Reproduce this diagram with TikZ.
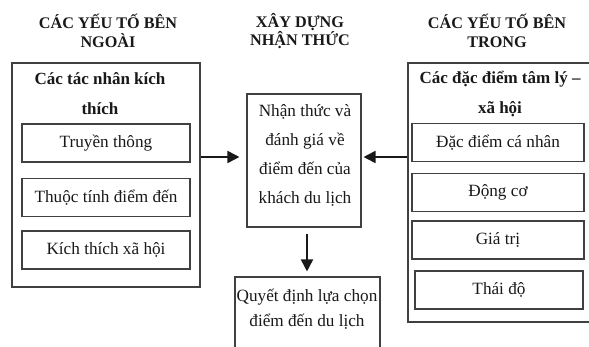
\documentclass[tikz,border=0pt]{standalone}
\usepackage{fontspec}
\setmainfont{Liberation Serif}
\usetikzlibrary{arrows.meta}

\tikzset{
  frame/.style={draw=black!75, line width=1.1pt, inner sep=0pt},
  itembox/.style={draw=black!75, line width=1.1pt, inner sep=0pt, minimum height=38pt,
    font=\fontsize{17.2}{20}\selectfont, text=black!90},
  header/.style={align=center, font=\bfseries\fontsize{16.2}{18.5}\selectfont, text=black!90},
  grouptitle/.style={align=center, font=\bfseries\fontsize{17}{30}\selectfont, text=black!90},
  bodytext/.style={align=center, font=\fontsize{17.2}{29}\selectfont, text=black!90},
  arr/.style={line width=1.8pt, black!90, -{Triangle[length=12pt,width=12pt]}}
}

\begin{document}
\begin{tikzpicture}[x=1pt, y=-1pt]
\clip (0,0) rectangle (589,347);
\fill[white] (0,0) rectangle (589,347);

% column headers
\node[header] (hleft)  at (108,31) {CÁC YẾU TỐ BÊN\\NGOÀI};
\node[header] (hmid)   at (300,31) {XÂY DỰNG\\NHẬN THỨC};
\node[header] (hright) at (497,31) {CÁC YẾU TỐ BÊN\\TRONG};

% external factors
\node[frame, minimum width=188pt, minimum height=224pt] (lbox) at (106,175) {};
\node[grouptitle] (ltitle) at (100,94) {Các tác nhân kích\\thích};
\node[itembox, minimum width=168pt] (l1) at (106,143) {Truyền thông};
\node[itembox, minimum width=168pt] (l2) at (106,197.5) {Thuộc tính điểm đến};
\node[itembox, minimum width=168pt] (l3) at (106,250) {Kích thích xã hội};

% perception
\node[frame, minimum width=114pt, minimum height=133pt] (cbox) at (304,160.5) {};
\node[bodytext] (ctext) at (305,155) {Nhận thức và\\đánh giá về\\điểm đến của\\khách du lịch};

% decision (runs past the lower edge)
\node[frame, minimum width=145pt, minimum height=90pt] (qbox) at (307.5,322) {};
\node[bodytext, font=\fontsize{17.2}{25}\selectfont] (qtext) at (307,309) {Quyết định lựa chọn\\điểm đến du lịch};

% internal factors (runs past the right edge)
\node[frame, minimum width=200pt, minimum height=259pt] (rbox) at (508,192.5) {};
\node[grouptitle] (rtitle) at (500,94) {Các đặc điểm tâm lý –\\xã hội};
\node[itembox, minimum width=172pt] (r1) at (498,142.5) {Đặc điểm cá nhân};
\node[itembox, minimum width=172pt] (r2) at (498,192.5) {Động cơ};
\node[itembox, minimum width=172pt] (r3) at (498,240) {Giá trị};
\node[itembox, minimum width=168pt] (r4) at (499,290) {Thái độ};

% connectors
\draw[arr, shorten >=7pt] (lbox.east |- 0,157) -- (cbox.west |- 0,157);
\draw[arr, shorten >=2pt] (rbox.west |- 0,157) -- (cbox.east |- 0,157);
\draw[arr, shorten <=6pt, shorten >=5pt] (cbox.south -| qtext) -- (qbox.north -| qtext);
\end{tikzpicture}
\end{document}
